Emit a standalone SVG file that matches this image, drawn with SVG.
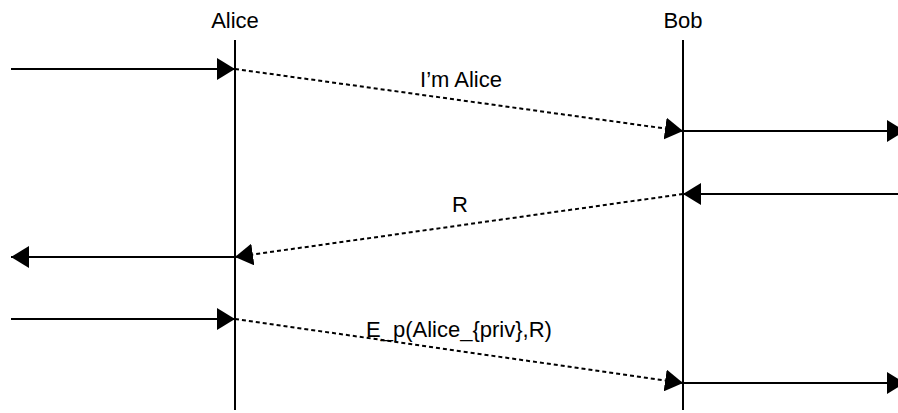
<svg xmlns="http://www.w3.org/2000/svg" width="898" height="413" viewBox="0 0 898 413">
<style>
text{font-family:"Liberation Sans",Arial,sans-serif;font-size:22px;fill:#000;text-anchor:middle}
.life{stroke:#000;stroke-width:2;fill:none}
.solid{stroke:#000;stroke-width:2;fill:none;marker-end:url(#ah)}
.dot{stroke:#000;stroke-width:2;fill:none;stroke-dasharray:4 3;marker-end:url(#ah)}
</style>
<defs>
<marker id="ah" markerUnits="userSpaceOnUse" viewBox="0 0 18 22" refX="18" refY="11" markerWidth="18" markerHeight="22" orient="auto">
<path d="M0,0L18,11L0,22Z" fill="#000"/>
</marker>
</defs>
<g id="alice">
<text x="235" y="28">Alice</text>
<line class="life" x1="235" y1="40" x2="235" y2="410"/>
</g>
<g id="bob">
<text x="683" y="28">Bob</text>
<line class="life" x1="683" y1="40" x2="683" y2="410"/>
</g>
<g id="connectors">
<line class="solid" x1="11" y1="69" x2="235" y2="69"/>
<line class="dot" x1="235" y1="69" x2="683" y2="131"/>
<line class="solid" x1="683" y1="131" x2="905" y2="131"/>
<line class="solid" x1="898" y1="194" x2="683" y2="194"/>
<line class="dot" x1="683" y1="194" x2="235" y2="257"/>
<line class="solid" x1="235" y1="257" x2="11" y2="257"/>
<line class="solid" x1="11" y1="319" x2="235" y2="319"/>
<line class="dot" x1="235" y1="319" x2="683" y2="383"/>
<line class="solid" x1="683" y1="383" x2="905" y2="383"/>
</g>
<g id="labels">
<text x="461" y="87">I’m Alice</text>
<text x="460" y="212">R</text>
<text x="459" y="337">E_p(Alice_{priv},R)</text>
</g>
</svg>
